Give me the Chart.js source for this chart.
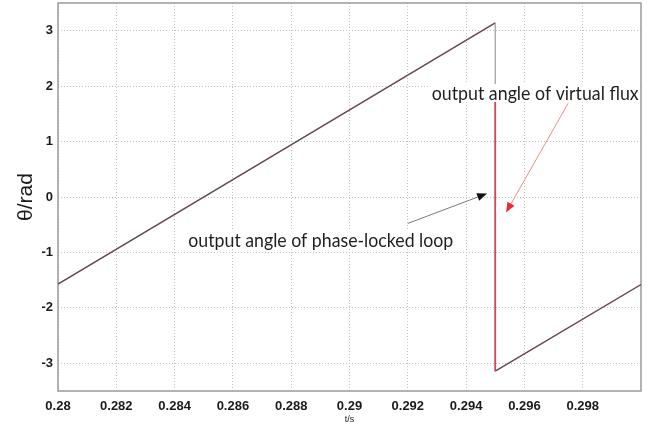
<!DOCTYPE html>
<html>
<head>
<meta charset="utf-8">
<script src="https://cdn.jsdelivr.net/npm/chart.js@4/dist/chart.umd.min.js"></script>
<style>
  html, body { margin: 0; padding: 0; background: #ffffff; }
  #wrap { width: 663px; height: 429px; }
</style>
</head>
<body>
<div id="wrap"><canvas id="c" width="663" height="429"></canvas></div>
<script>
// Time axis (s) and angles (rad) of the two signals
const pllTime = [0.28, 0.295, 0.295, 0.3];
const pllAngle = [-1.571, 3.142, -3.142, -1.578];

const fluxTime = [0.28, 0.295, 0.295, 0.295, 0.295, 0.3];
const fluxAngle = [-1.571, 3.142, null, 1.79, -3.142, -1.578];

const xTicks = [0.28, 0.282, 0.284, 0.286, 0.288, 0.29, 0.292, 0.294, 0.296, 0.298];
const xTickLabels = ['0.28', '0.282', '0.284', '0.286', '0.288', '0.29', '0.292', '0.294', '0.296', '0.298'];
const yTicks = [-3, -2, -1, 0, 1, 2, 3];
const yTickLabels = ['-3', '-2', '-1', '0', '1', '2', '3'];

// Callouts: text anchor (left, middle) and arrow tail -> head, in data units
const fluxLabel = { text: 'output angle of virtual flux', x: 0.29282, y: 1.86, width: 207 };
const fluxArrow = { x0: 0.2975, y0: 1.69, x1: 0.29537, y1: -0.28 };
const pllLabel = { text: 'output angle of phase-locked loop', x: 0.28447, y: -0.784, width: 265 };
const pllArrow = { x0: 0.2920, y0: -0.477, x1: 0.29472, y1: 0.063 };

const toPoints = (xs, ys) => xs.map((x, i) => ({ x: x, y: ys[i] }));
const isVertical = ctx => ctx.p0.parsed.x === ctx.p1.parsed.x;

function drawArrow(ctx, x0, y0, x1, y1, lineColor, headColor) {
  const ang = Math.atan2(y1 - y0, x1 - x0);
  const len = 10, half = 4;
  const bx = x1 - len * Math.cos(ang), by = y1 - len * Math.sin(ang);
  ctx.save();
  ctx.strokeStyle = lineColor;
  ctx.lineWidth = 1;
  ctx.beginPath();
  ctx.moveTo(x0, y0);
  ctx.lineTo(bx, by);
  ctx.stroke();
  ctx.fillStyle = headColor;
  ctx.beginPath();
  ctx.moveTo(x1, y1);
  ctx.lineTo(bx + half * Math.sin(ang), by - half * Math.cos(ang));
  ctx.lineTo(bx - half * Math.sin(ang), by + half * Math.cos(ang));
  ctx.closePath();
  ctx.fill();
  ctx.restore();
}

function drawLabel(ctx, sx, sy, lab) {
  const px = sx.getPixelForValue(lab.x), py = sy.getPixelForValue(lab.y);
  ctx.save();
  ctx.font = '19px Lato, "Open Sans", sans-serif';
  ctx.fillStyle = '#ffffff';
  ctx.fillRect(px - 1, py - 10, lab.width + 2, 18);
  ctx.fillStyle = '#1f1f1f';
  ctx.textAlign = 'left';
  ctx.textBaseline = 'middle';
  ctx.fillText(lab.text, px, py, lab.width);
  ctx.restore();
}

const framePlugin = {
  id: 'frame',
  beforeDatasetsDraw(chart) {
    const { ctx, chartArea: a } = chart;
    ctx.save();
    ctx.strokeStyle = '#9a9a9a';
    ctx.lineWidth = 1.5;
    ctx.strokeRect(a.left, a.top, a.right - a.left, a.bottom - a.top);
    ctx.restore();
  },
  afterDatasetsDraw(chart) {
    const { ctx, chartArea: a } = chart;
    const sx = chart.scales.x, sy = chart.scales.y;
    drawLabel(ctx, sx, sy, fluxLabel);
    drawLabel(ctx, sx, sy, pllLabel);
    drawArrow(ctx,
      sx.getPixelForValue(fluxArrow.x0), sy.getPixelForValue(fluxArrow.y0),
      sx.getPixelForValue(fluxArrow.x1), sy.getPixelForValue(fluxArrow.y1),
      '#f08a8a', '#ee2a2a');
    drawArrow(ctx,
      sx.getPixelForValue(pllArrow.x0), sy.getPixelForValue(pllArrow.y0),
      sx.getPixelForValue(pllArrow.x1), sy.getPixelForValue(pllArrow.y1),
      '#7a7a7a', '#111111');

    // axis titles
    ctx.save();
    ctx.fillStyle = '#1a1a1a';
    ctx.textAlign = 'center';
    ctx.textBaseline = 'middle';
    ctx.font = '9px "Liberation Sans", Arial, sans-serif';
    ctx.fillText('t/s', (a.left + a.right) / 2, 420);
    ctx.translate(26, sy.getPixelForValue(0));
    ctx.rotate(-Math.PI / 2);
    ctx.font = '21px "Liberation Sans", Arial, sans-serif';
    ctx.fillText('θ/rad', 0, 0);
    ctx.restore();
  }
};

new Chart(document.getElementById('c'), {
  type: 'line',
  data: {
    datasets: [
      {
        label: 'output angle of virtual flux',
        data: toPoints(fluxTime, fluxAngle),
        order: 0,
        borderWidth: 1.6,
        pointRadius: 0,
        spanGaps: false,
        segment: {
          borderColor: ctx => isVertical(ctx) ? '#cf4656' : 'rgba(205,70,85,0.28)',
          borderWidth: ctx => isVertical(ctx) ? 1.7 : 1.2
        },
        borderColor: '#cf4656'
      },
      {
        label: 'output angle of phase-locked loop',
        data: toPoints(pllTime, pllAngle),
        order: 1,
        borderWidth: 1.3,
        pointRadius: 0,
        segment: {
          borderColor: ctx => isVertical(ctx) ? '#a2a2a2' : '#4a4a4a'
        },
        borderColor: '#4a4a4a'
      }
    ]
  },
  options: {
    responsive: false,
    animation: false,
    devicePixelRatio: 1,
    layout: { padding: { top: 3, right: 22, left: 0, bottom: 0 } },
    plugins: { legend: { display: false }, tooltip: { enabled: false } },
    scales: {
      x: {
        type: 'linear',
        min: 0.28,
        max: 0.3,
        afterBuildTicks: s => { s.ticks = xTicks.map(v => ({ value: v })); },
        afterFit: s => { s.height = 38; s.paddingLeft = 0; s.paddingRight = 0; },
        ticks: {
          autoSkip: false,
          maxRotation: 0,
          padding: 8,
          color: '#1a1a1a',
          font: { family: '"Liberation Sans", Arial, sans-serif', size: 13, weight: 'bold' },
          callback: (v, i) => xTickLabels[i]
        },
        grid: { color: '#c2c2c2', lineWidth: 1, drawTicks: false },
        border: { display: false, dash: [1, 2] }
      },
      y: {
        type: 'linear',
        min: -3.5,
        max: 3.5,
        afterBuildTicks: s => { s.ticks = yTicks.map(v => ({ value: v })); },
        afterFit: s => { s.width = 58; s.paddingTop = 0; s.paddingBottom = 0; },
        ticks: {
          autoSkip: false,
          padding: 5,
          color: '#1a1a1a',
          font: { family: '"Liberation Sans", Arial, sans-serif', size: 13, weight: 'bold' },
          callback: (v, i) => yTickLabels[i]
        },
        grid: { color: '#c2c2c2', lineWidth: 1, drawTicks: false },
        border: { display: false, dash: [1, 2] }
      }
    }
  },
  plugins: [framePlugin]
});
</script>
</body>
</html>
